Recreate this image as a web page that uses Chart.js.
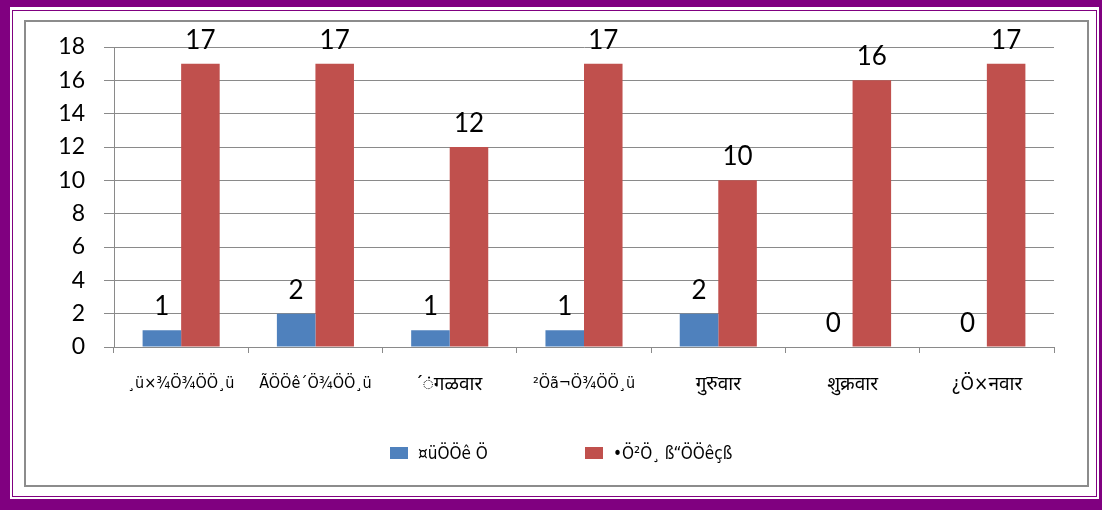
<!DOCTYPE html>
<html>
<head>
<meta charset="utf-8">
<script src="https://cdn.jsdelivr.net/npm/chart.js@4.4.1/dist/chart.umd.min.js"></script>
<style>
  html, body { margin: 0; padding: 0; }
  body { width: 1102px; height: 510px; background: #800080; position: relative; overflow: hidden; }
  .white { position: absolute; left: 10px; top: 7px; width: 1089px; height: 492px; background: #fff; }
  .thin { position: absolute; left: 12px; top: 10px; width: 1083px; height: 485px; border: 1px solid #800080; }
  .frame { position: absolute; left: 24px; top: 20px; width: 1061px; height: 463px; border: 2px solid #8c8c8c; background: #fff; }
  canvas { display: block; }
  .legend { position: absolute; top: 0; left: 0; }
  .item { position: absolute; top: 441px; height: 24px; line-height: 24px; white-space: nowrap;
          font-family: 'Liberation Sans Narrow', 'DejaVu Sans Condensed', 'Noto Sans', sans-serif; font-size: 17px; color: #000; }
  .box { position: absolute; top: 6px; width: 18px; height: 12px; }
  .txt { position: absolute; left: 28px; top: 0; }
</style>
</head>
<body>
<div class="white"></div>
<div class="thin"></div>
<div class="frame"><canvas id="c" width="1061" height="463"></canvas></div>
<div class="legend" id="legend"></div>
<script>
  // day names, as they appear in the picture (legacy-font encoded text mixed with Unicode)
  const categories = ["¸ü×¾Ö¾ÖÖ¸ü", "ÃÖÖê´Ö¾ÖÖ¸ü", "´ंगळवार", "²Öã¬Ö¾ÖÖ¸ü", "गुरुवार", "शुक्रवार", "¿Ö×नवार"];
  const seriesNames = ["¤üÖÖê Ö", "•Ö²Ö¸ ß“ÖÖêçß"];
  const blueValues = [1, 2, 1, 1, 2, 0, 0];
  const redValues = [17, 17, 12, 17, 10, 16, 17];
  const yTicks = [0, 2, 4, 6, 8, 10, 12, 14, 16, 18];

  const seriesColors = ["#4f81bd", "#c0504d"];
  const legendLeft = [390, 585];

  const labelFont = "'Liberation Sans Narrow', 'DejaVu Sans Condensed', 'Noto Sans', sans-serif";
  const numFont = "Lato, 'Open Sans', sans-serif";
  const gridColor = "#8a8a8a";

  const isDeva = (s) => /^[\u0900-\u097F]/.test(s) || /[\u0900-\u097F]{3}/.test(s);

  const valueLabels = {
    id: "valueLabels",
    afterDatasetsDraw(chart) {
      const ctx = chart.ctx;
      ctx.save();
      ctx.fillStyle = "#000";
      ctx.font = "26px " + numFont;
      ctx.textAlign = "center";
      ctx.textBaseline = "alphabetic";
      chart.data.datasets.forEach((ds, i) => {
        chart.getDatasetMeta(i).data.forEach((bar, j) => {
          ctx.fillText(String(ds.data[j]), bar.x, bar.y - 15);
        });
      });
      ctx.restore();
    },
  };

  const chart = new Chart(document.getElementById("c"), {
    type: "bar",
    data: {
      labels: categories,
      datasets: seriesNames.map((name, i) => ({
        label: name,
        data: i === 0 ? blueValues : redValues,
        backgroundColor: seriesColors[i],
      })),
    },
    plugins: [valueLabels],
    options: {
      responsive: false,
      animation: false,
      events: [],
      layout: { padding: { top: 25, right: 33, left: 0, bottom: 0 } },
      datasets: { bar: { categoryPercentage: 0.574, barPercentage: 1 } },
      plugins: {
        tooltip: { enabled: false },
        legend: { display: false },
      },
      scales: {
        x: {
          afterFit: (s) => { s.height = 138; },
          grid: { display: true, drawOnChartArea: false, offset: true, tickLength: 6, color: gridColor },
          border: { color: gridColor },
          ticks: {
            color: "#000",
            padding: 21,
            maxRotation: 0,
            autoSkip: false,
            font: (c) => ({ family: labelFont, size: isDeva(categories[c.index] || "") ? 19 : 16 }),
          },
        },
        y: {
          min: 0,
          max: 18,
          afterFit: (s) => { s.width = 88; s.paddingTop = 0; s.paddingBottom = 0; },
          afterBuildTicks: (s) => { s.ticks = yTicks.map((v) => ({ value: v })); },
          grid: { color: gridColor, tickLength: 10 },
          border: { color: gridColor },
          ticks: { color: "#000", font: { family: numFont, size: 23 }, padding: 19, autoSkip: false },
        },
      },
    },
  });

  // html legend under the plot
  const legend = document.getElementById("legend");
  chart.data.datasets.forEach((ds, i) => {
    const item = document.createElement("div");
    item.className = "item";
    item.style.left = legendLeft[i] + "px";
    const box = document.createElement("span");
    box.className = "box";
    box.style.background = ds.backgroundColor;
    const txt = document.createElement("span");
    txt.className = "txt";
    txt.textContent = ds.label;
    item.appendChild(box);
    item.appendChild(txt);
    legend.appendChild(item);
  });
</script>
</body>
</html>
